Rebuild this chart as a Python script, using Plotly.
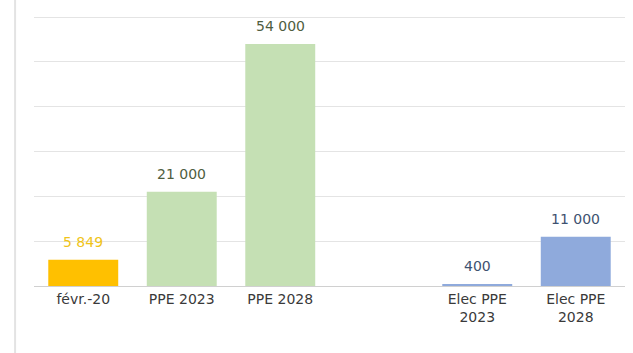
import plotly.graph_objects as go

# Charging points: current count vs. PPE targets
categories = ["févr.-20", "PPE 2023", "PPE 2028", " ", "Elec PPE<br>2023", "Elec PPE<br>2028"]
values = [5849, 21000, 54000, None, 400, 11000]
bar_colors = ["#FFC000", "#C5E0B4", "#C5E0B4", "#FFFFFF", "#8FAADC", "#8FAADC"]
label_colors = ["#F0C419", "#4F5E3F", "#4F5E3F", "#FFFFFF", "#3E5270", "#3E5270"]

FONT = "DejaVu Sans"

fig = go.Figure(
    go.Bar(
        x=categories,
        y=values,
        marker=dict(color=bar_colors, line=dict(width=0)),
        hoverinfo="skip",
    )
)

def fmt(v):
    return f"{v:,}".replace(",", " ")

for cat, v, col in zip(categories, values, label_colors):
    if v is None:
        continue
    fig.add_annotation(
        x=cat, y=v, text=fmt(v), showarrow=False,
        yanchor="bottom", yshift=8,
        font=dict(family=FONT, size=14, color=col),
    )

# container border on the left
fig.add_shape(
    type="line", xref="paper", yref="paper",
    x0=-0.032, x1=-0.032, y0=-0.3, y1=1.1,
    line=dict(color="#E3E3E3", width=2),
)

fig.update_layout(
    width=633, height=353,
    margin=dict(l=34, r=8, t=0, b=67),
    paper_bgcolor="white", plot_bgcolor="white",
    bargap=0.29,
    showlegend=False,
    xaxis=dict(
        type="category", categoryorder="array", categoryarray=categories,
        showgrid=False, showline=True, linecolor="#D0D0D0", linewidth=1,
        ticks="", tickfont=dict(family=FONT, size=14, color="#3A3A3A"),
        fixedrange=True,
    ),
    yaxis=dict(
        range=[0, 63800], dtick=10000, showticklabels=False,
        showgrid=True, gridcolor="#E4E4E4", gridwidth=1,
        zeroline=False, fixedrange=True,
    ),
)

fig.write_html("out.html")
